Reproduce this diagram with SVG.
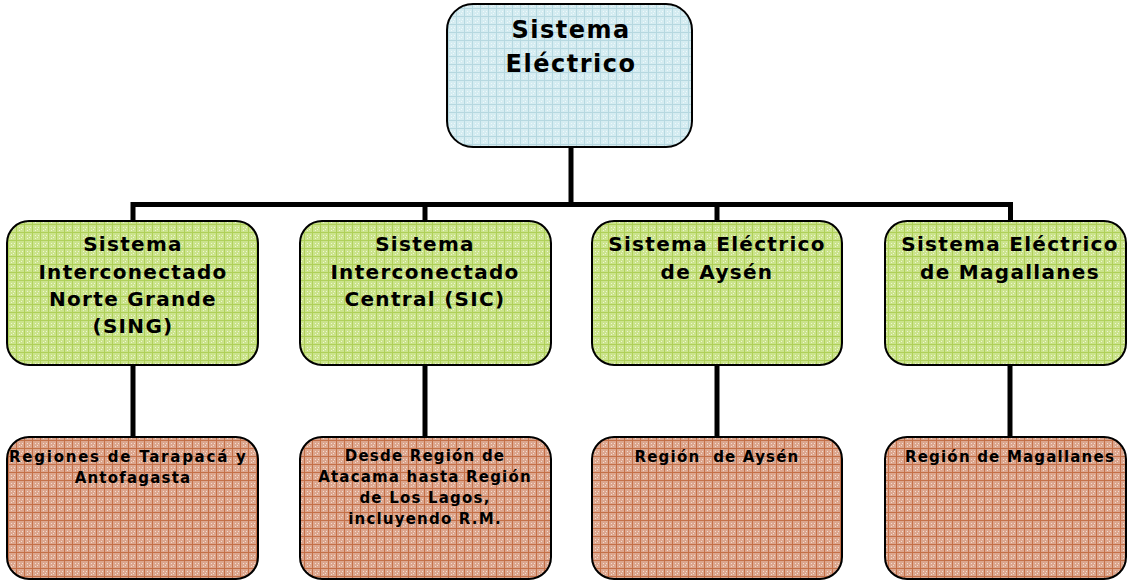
<svg xmlns="http://www.w3.org/2000/svg" width="1128" height="581" viewBox="0 0 1128 581">
<defs>
<pattern id="pBlue" width="8" height="8" patternUnits="userSpaceOnUse">
<rect width="8" height="8" fill="#d5ecf1"/>
<rect width="8" height="1" fill="#b6d8e0"/>
<rect width="1" height="8" fill="#b6d8e0"/>
<rect x="3" y="3" width="1" height="1" fill="#eef8fa"/>
<rect x="5" y="5" width="1" height="1" fill="#eef8fa"/>
<rect x="3" y="6" width="1" height="1" fill="#eef8fa"/>
<rect x="6" y="3" width="1" height="1" fill="#eef8fa"/>
</pattern>
<pattern id="pGreen" width="8" height="8" patternUnits="userSpaceOnUse">
<rect width="8" height="8" fill="#cbe38c"/>
<rect width="8" height="1" fill="#afd059"/>
<rect width="1" height="8" fill="#afd059"/>
<rect x="3" y="3" width="1" height="1" fill="#eef7d4"/>
<rect x="5" y="5" width="1" height="1" fill="#eef7d4"/>
<rect x="3" y="6" width="1" height="1" fill="#eef7d4"/>
<rect x="6" y="3" width="1" height="1" fill="#eef7d4"/>
</pattern>
<pattern id="pBrown" width="8" height="8" patternUnits="userSpaceOnUse">
<rect width="8" height="8" fill="#dca68e"/>
<rect width="8" height="1" fill="#c47048"/>
<rect width="1" height="8" fill="#c47048"/>
<rect x="3" y="3" width="1" height="1" fill="#f4dccf"/>
<rect x="5" y="5" width="1" height="1" fill="#f4dccf"/>
<rect x="3" y="6" width="1" height="1" fill="#f4dccf"/>
<rect x="6" y="3" width="1" height="1" fill="#f4dccf"/>
</pattern>
</defs>
<style>
.box{stroke:#000;stroke-width:2}
.top{fill:url(#pBlue)}
.mid{fill:url(#pGreen)}
.bot{fill:url(#pBrown)}
text{font-family:"DejaVu Sans","Verdana",sans-serif;font-weight:bold;fill:#000;text-anchor:middle;white-space:pre}
.t1{font-size:24px;letter-spacing:1.5px}
.t2{font-size:20px;letter-spacing:1.3px}
.t3{font-size:15px;letter-spacing:1.2px}
.con{stroke:#000;stroke-width:5;fill:none;stroke-linecap:square}
</style>
<g id="connectors">
<path class="con" d="M571 147 V204.5"/>
<path class="con" d="M133 221 V204.5 H1010.5 V221"/>
<path class="con" d="M425 204.5 V221"/>
<path class="con" d="M717 204.5 V221"/>
<path class="con" d="M133 365 V437"/>
<path class="con" d="M425 365 V437"/>
<path class="con" d="M717 365 V437"/>
<path class="con" d="M1010 365 V437"/>
</g>
<g id="n0">
<rect class="box top" x="447" y="4" width="245" height="143" rx="26"/>
<text class="t1" x="571" y="38">Sistema</text>
<text class="t1" x="571" y="72">Eléctrico</text>
</g>
<g id="n1">
<rect class="box mid" x="7" y="221" width="251" height="144" rx="22"/>
<text class="t2" x="133" y="251">Sistema</text>
<text class="t2" x="133" y="279">Interconectado</text>
<text class="t2" x="133" y="306">Norte Grande</text>
<text class="t2" x="133" y="333">(SING)</text>
</g>
<g id="n2">
<rect class="box mid" x="300" y="221" width="251" height="144" rx="22"/>
<text class="t2" x="425" y="251">Sistema</text>
<text class="t2" x="425" y="279">Interconectado</text>
<text class="t2" x="425" y="306">Central (SIC)</text>
</g>
<g id="n3">
<rect class="box mid" x="592" y="221" width="250" height="144" rx="22"/>
<text class="t2" x="717" y="251">Sistema Eléctrico</text>
<text class="t2" x="717" y="279">de Aysén</text>
</g>
<g id="n4">
<rect class="box mid" x="885" y="221" width="241" height="144" rx="22"/>
<text class="t2" x="1010" y="251">Sistema Eléctrico</text>
<text class="t2" x="1010" y="279">de Magallanes</text>
</g>
<g id="n5">
<rect class="box bot" x="7" y="437" width="251" height="142" rx="22"/>
<text class="t3" x="128" y="462" textLength="238" lengthAdjust="spacing">Regiones de Tarapacá y</text>
<text class="t3" x="133" y="483">Antofagasta</text>
</g>
<g id="n6">
<rect class="box bot" x="300" y="437" width="251" height="142" rx="22"/>
<text class="t3" x="425" y="461">Desde Región de</text>
<text class="t3" x="425" y="482">Atacama hasta Región</text>
<text class="t3" x="425" y="503">de Los Lagos,</text>
<text class="t3" x="425" y="524">incluyendo R.M.</text>
</g>
<g id="n7">
<rect class="box bot" x="592" y="437" width="250" height="142" rx="22"/>
<text class="t3" x="717" y="462">Región  de Aysén</text>
</g>
<g id="n8">
<rect class="box bot" x="885" y="437" width="241" height="142" rx="22"/>
<text class="t3" x="1010" y="462">Región de Magallanes</text>
</g>
</svg>
